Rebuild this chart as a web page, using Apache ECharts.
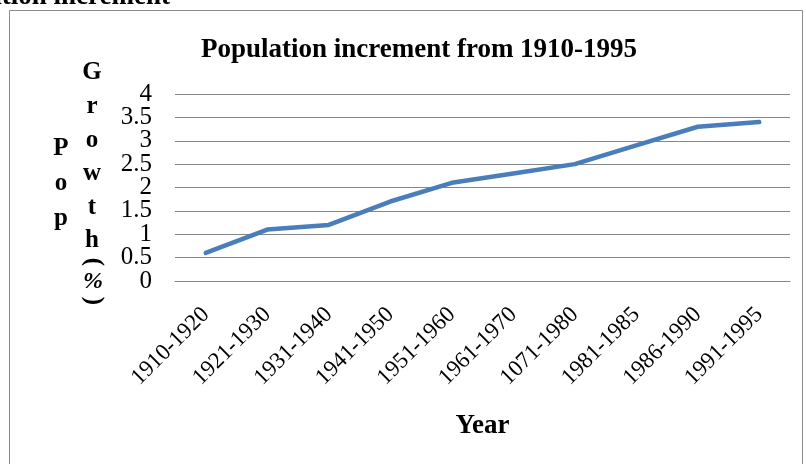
<!DOCTYPE html>
<html>
<head>
<meta charset="utf-8">
<script src="https://cdn.jsdelivr.net/npm/echarts@6/dist/echarts.min.js"></script>
<style>
  html, body { margin: 0; padding: 0; background: #fff; }
  #chart { width: 806px; height: 464px; }
</style>
</head>
<body>
<div id="chart"></div>
<script>
// data
var periods = ['1910-1920', '1921-1930', '1931-1940', '1941-1950', '1951-1960',
               '1961-1970', '1071-1980', '1981-1985', '1986-1990', '1991-1995'];
var growth = [0.6, 1.1, 1.2, 1.7, 2.1, 2.3, 2.5, 2.9, 3.3, 3.4];

var serif = "'Liberation Serif', 'Times New Roman', serif";

var chart = echarts.init(document.getElementById('chart'));

// labels are tightly packed in the original, so whole and half values
// go on two stacked axes to keep echarts from hiding any of them
function yAxisPart(showHalves) {
  return {
    type: 'value',
    position: 'left',
    min: 0,
    max: 4,
    interval: 0.5,
    axisLine: { show: false },
    axisTick: { show: false },
    axisLabel: {
      margin: 23, fontFamily: serif, fontSize: 25, color: '#000',
      showMinLabel: true, showMaxLabel: true,
      formatter: function (v) {
        var half = Math.round(v * 2) % 2 === 1;
        return half === showHalves ? String(v) : '';
      }
    },
    splitLine: { show: !showHalves, lineStyle: { color: '#868686', width: 1.2 } }
  };
}

var option = {
  animation: false,
  title: {
    text: 'Population increment from 1910-1995',
    left: 414,
    top: 32,
    textAlign: 'center',
    textStyle: { fontFamily: serif, fontWeight: 'bold', fontSize: 27, color: '#000' }
  },
  grid: { left: 175, right: 16, top: 94, bottom: 183, containLabel: false },
  xAxis: {
    type: 'category',
    data: periods,
    boundaryGap: true,
    name: 'Year',
    nameLocation: 'middle',
    nameGap: 132,
    nameTextStyle: { fontFamily: serif, fontWeight: 'bold', fontSize: 27, color: '#000' },
    axisLine: { lineStyle: { color: '#868686', width: 1.2 } },
    axisTick: { show: false },
    axisLabel: {
      rotate: 45,
      margin: 30,
      interval: 0,
      fontFamily: serif,
      fontSize: 23,
      color: '#000'
    }
  },
  yAxis: [yAxisPart(false), yAxisPart(true)],
  graphic: [
    { type: 'rect', shape: { x: 9.5, y: 10.5, width: 793, height: 470 },
      style: { fill: 'none', stroke: '#8a8a8a', lineWidth: 1 } },
    { type: 'text', x: 170, y: 11,
      style: { text: 'Population increment', font: 'bold 27px ' + serif, fill: '#000',
               align: 'right', verticalAlign: 'bottom' } },
    { type: 'text', x: 61, y: 184,
      style: { text: 'P\no\np', font: 'bold 25px ' + serif, fill: '#000',
               align: 'center', verticalAlign: 'middle', lineHeight: 35 } },
    { type: 'text', x: 92, y: 157,
      style: { text: 'G\nr\no\nw\nt\nh', font: 'bold 25px ' + serif, fill: '#000',
               align: 'center', verticalAlign: 'middle', lineHeight: 33.6 } },
    { type: 'text', x: 93, y: 262, rotation: -Math.PI / 2,
      style: { text: '(', font: 'bold 25px ' + serif, fill: '#000',
               align: 'center', verticalAlign: 'middle' } },
    { type: 'text', x: 93, y: 282,
      style: { text: '%', font: 'italic bold 24px ' + serif, fill: '#000',
               align: 'center', verticalAlign: 'middle' } },
    { type: 'text', x: 93, y: 301, rotation: -Math.PI / 2,
      style: { text: ')', font: 'bold 25px ' + serif, fill: '#000',
               align: 'center', verticalAlign: 'middle' } }
  ],
  series: [{
    type: 'line',
    data: growth,
    showSymbol: false,
    smooth: false,
    lineStyle: { color: '#4a7ebb', width: 4.5, cap: 'round', join: 'round' }
  }]
};

chart.setOption(option);
</script>
</body>
</html>
